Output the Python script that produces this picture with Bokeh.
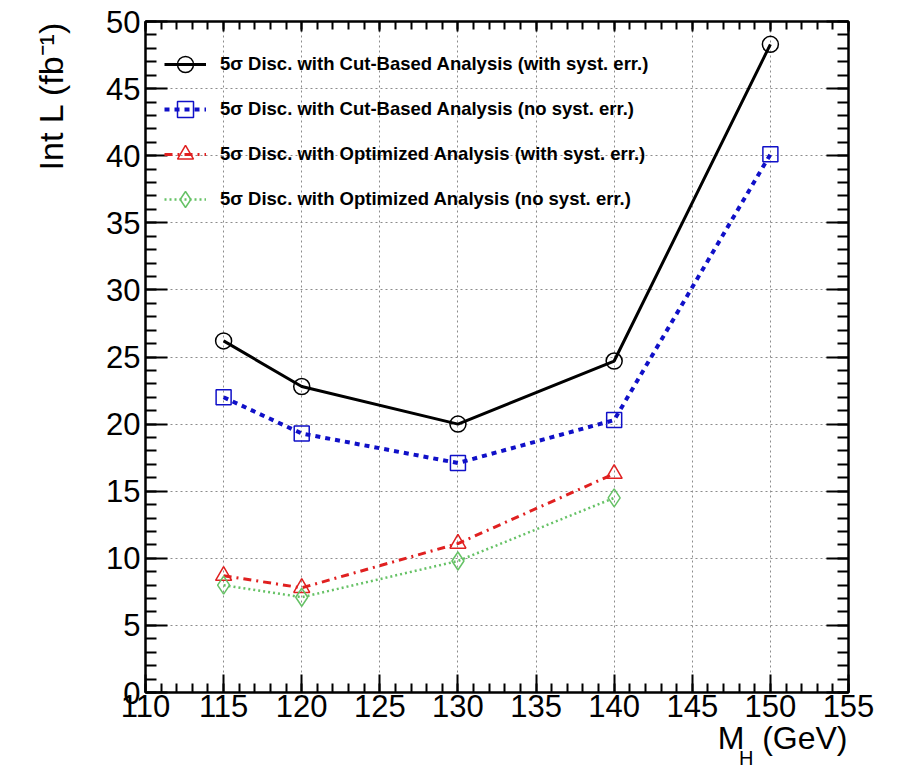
from bokeh.plotting import figure
from bokeh.models import (LinearAxis, SingleIntervalTicker, Legend, LegendItem, Title,
                          CustomJSTickFormatter)
from bokeh.embed import file_html
from bokeh.resources import INLINE

# Data
mass = [115, 120, 130, 140, 150]
cut_syst = [26.2, 22.8, 20.0, 24.7, 48.3]
cut_nosyst = [22.0, 19.3, 17.1, 20.3, 40.1]
mass_opt = [115, 120, 130, 140]
opt_syst = [8.7, 7.8, 11.1, 16.3]
opt_nosyst = [8.0, 7.1, 9.8, 14.5]

labels = [
    "5σ Disc. with Cut-Based Analysis (with syst. err.)",
    "5σ Disc. with Cut-Based Analysis (no syst. err.)",
    "5σ Disc. with Optimized Analysis (with syst. err.)",
    "5σ Disc. with Optimized Analysis (no syst. err.)",
]

FONT = "Liberation Sans"

p = figure(width=878, height=766, x_range=(110, 155), y_range=(0, 50),
           output_backend="svg", toolbar_location=None,
           min_border_left=144, min_border_right=30,
           min_border_top=21, min_border_bottom=74)

p.outline_line_color = "black"
p.outline_line_width = 2
p.background_fill_color = "white"

xt = SingleIntervalTicker(interval=5, num_minor_ticks=5)
yt = SingleIntervalTicker(interval=5, num_minor_ticks=5)

for ax, t, mj, mn in ((p.xaxis[0], xt, 18, 9), (p.yaxis[0], yt, 22, 11)):
    ax.ticker = t
    ax.major_tick_in = mj
    ax.major_tick_out = 0
    ax.minor_tick_in = mn
    ax.minor_tick_out = 0
    ax.axis_line_width = 2
    ax.major_tick_line_width = 2
    ax.minor_tick_line_width = 2
    ax.major_label_text_font = FONT
    ax.major_label_text_font_size = "31px"
    ax.major_label_text_color = "black"

p.xaxis.major_label_standoff = 2
p.yaxis.major_label_standoff = 5

blank = CustomJSTickFormatter(code="return '';")
top = LinearAxis(ticker=SingleIntervalTicker(interval=5, num_minor_ticks=5),
                 formatter=blank, major_label_standoff=0,
                 major_tick_in=10, major_tick_out=0, minor_tick_in=8, minor_tick_out=0,
                 axis_line_width=2, major_tick_line_width=2, minor_tick_line_width=2)
right = LinearAxis(ticker=SingleIntervalTicker(interval=5, num_minor_ticks=5),
                   formatter=blank, major_label_standoff=0,
                   major_tick_in=22, major_tick_out=0, minor_tick_in=11, minor_tick_out=0,
                   axis_line_width=2, major_tick_line_width=2, minor_tick_line_width=2)
p.add_layout(top, "above")
p.add_layout(right, "right")

p.xgrid.grid_line_color = "#8c8c8c"
p.ygrid.grid_line_color = "#8c8c8c"
p.xgrid.grid_line_dash = "2 3"
p.ygrid.grid_line_dash = "2 3"
p.xgrid.grid_line_width = 1
p.ygrid.grid_line_width = 1

# series
l1 = p.line(mass, cut_syst, line_color="black", line_width=3)
s1 = p.scatter(mass, cut_syst, marker="circle", size=16, line_color="black",
               fill_alpha=0, line_width=1.5)
l2 = p.line(mass, cut_nosyst, line_color="#1010c8", line_width=4, line_dash="5 5")
s2 = p.scatter(mass, cut_nosyst, marker="square", size=15, line_color="#1010c8",
               fill_alpha=0, line_width=1.5)
l3 = p.line(mass_opt, opt_syst, line_color="#e02020", line_width=3, line_dash="8 5 2 5")
s3 = p.scatter(mass_opt, opt_syst, marker="triangle", size=16, line_color="#e02020",
               fill_alpha=0, line_width=1.5)
l4 = p.line(mass_opt, opt_nosyst, line_color="#66c266", line_width=2.5, line_dash="2 3")
s4 = p.scatter(mass_opt, opt_nosyst, marker="diamond", size=18, line_color="#66c266",
               fill_alpha=0, line_width=1.5)

items = [LegendItem(label=labels[0], renderers=[l1, s1]),
         LegendItem(label=labels[1], renderers=[l2, s2]),
         LegendItem(label=labels[2], renderers=[l3, s3]),
         LegendItem(label=labels[3], renderers=[l4, s4])]
leg = Legend(items=items, location=(19, 473), background_fill_alpha=0,
             border_line_alpha=0, padding=0, margin=0, spacing=5,
             glyph_width=42, glyph_height=40, label_height=40,
             label_standoff=14, label_text_font=FONT, label_text_color="black",
             label_text_font_style="bold", label_text_font_size="18.5px")
p.add_layout(leg, "center")

# axis titles
p.add_layout(Title(text="Int L (fb⁻¹)", align="right", vertical_align="top",
                   standoff=63, text_font=FONT, text_font_size="34px",
                   text_font_style="normal", text_color="black"), "left")
p.add_layout(Title(text="M\u00a0\u00a0(GeV)", align="right", offset=1, standoff=-3,
                   text_font=FONT, text_font_size="32px", text_font_style="normal",
                   text_color="black"), "below")
p.add_layout(Title(text="H", align="right", offset=95, standoff=-20,
                   text_font=FONT, text_font_size="20px", text_font_style="normal",
                   text_color="black"), "below")

open("out.html", "w").write(file_html(p, INLINE))
